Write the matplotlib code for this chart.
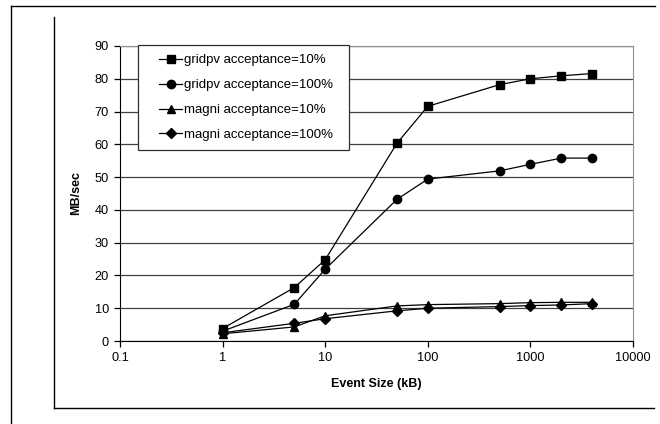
import matplotlib.pyplot as plt
from matplotlib.lines import Line2D
from matplotlib.patches import Rectangle

# Event sizes (kB) and throughput (MB/sec)
event_size = [1, 5, 10, 50, 100, 500, 1000, 2000, 4000]
gridpv_10 = [3.8, 16.3, 24.8, 60.3, 71.6, 78.2, 80.0, 80.9, 81.6]
gridpv_100 = [3.0, 11.2, 21.9, 43.2, 49.4, 51.9, 53.9, 55.8, 55.8]
magni_10 = [2.2, 4.3, 7.7, 10.7, 11.1, 11.4, 11.7, 11.8, 11.8]
magni_100 = [2.5, 5.4, 6.8, 9.2, 10.0, 10.5, 10.8, 11.0, 11.4]

series = [
    ('gridpv acceptance=10%', gridpv_10, 's', 5.5),
    ('gridpv acceptance=100%', gridpv_100, 'o', 6),
    ('magni acceptance=10%', magni_10, '^', 6),
    ('magni acceptance=100%', magni_100, 'D', 5),
]

plt.rcParams['font.family'] = ['Liberation Sans', 'DejaVu Sans']
plt.rcParams['font.size'] = 9.2

fig = plt.figure(figsize=(6.6, 4.24), dpi=100)
ax = fig.add_axes([120 / 660, 1 - 341 / 424, 513 / 660, 295 / 424])

for label, vals, mk, ms in series:
    ax.plot(event_size, vals, color='black', linewidth=0.9, marker=mk,
            markersize=ms, label=label, zorder=3)

ax.set_xscale('log')
ax.set_xlim(0.1, 10000)
ax.set_ylim(0, 90)
ax.set_yticks(range(0, 91, 10))
ax.set_xticks([0.1, 1, 10, 100, 1000, 10000])
ax.set_xticklabels(['0.1', '1', '10', '100', '1000', '10000'])
ax.minorticks_off()
ax.yaxis.grid(True, color='#404040', linewidth=0.9)
ax.set_axisbelow(True)

ax.spines['top'].set_color('#909090')
ax.spines['right'].set_color('#909090')
ax.spines['left'].set_color('black')
ax.spines['bottom'].set_color('black')
ax.tick_params(direction='out', length=4, width=0.9, pad=4)

ax.set_xlabel('Event Size (kB)', fontweight='bold', fontsize=9, labelpad=10)
ax.set_ylabel('MB/sec', fontweight='bold', fontsize=9, labelpad=9)

# legend box drawn separately so the entries can sit with a wide left margin
ax.add_patch(Rectangle((0.0351, 0.647), 0.4113, 0.3564, transform=ax.transAxes,
                       facecolor='white', edgecolor='#303030', linewidth=0.9,
                       clip_on=False, zorder=4))
leg = ax.legend(loc='center left', bbox_to_anchor=(0.076, 0.825), frameon=False,
                fontsize=9.5, handlelength=1.75, labelspacing=0.96, borderpad=0,
                handletextpad=0.15, borderaxespad=0)
leg.set_zorder(5)

# page frame lines around the chart
fig.add_artist(Line2D([11 / 660, 655 / 660], [1 - 6 / 424, 1 - 6 / 424],
                      color='black', linewidth=1))
fig.add_artist(Line2D([11 / 660, 11 / 660], [1 - 6 / 424, 0],
                      color='black', linewidth=1))
fig.add_artist(Line2D([54 / 660, 54 / 660], [1 - 17 / 424, 1 - 408 / 424],
                      color='black', linewidth=1))
fig.add_artist(Line2D([54 / 660, 654 / 660], [1 - 408 / 424, 1 - 408 / 424],
                      color='black', linewidth=1))

plt.savefig('out.png', dpi=100)
